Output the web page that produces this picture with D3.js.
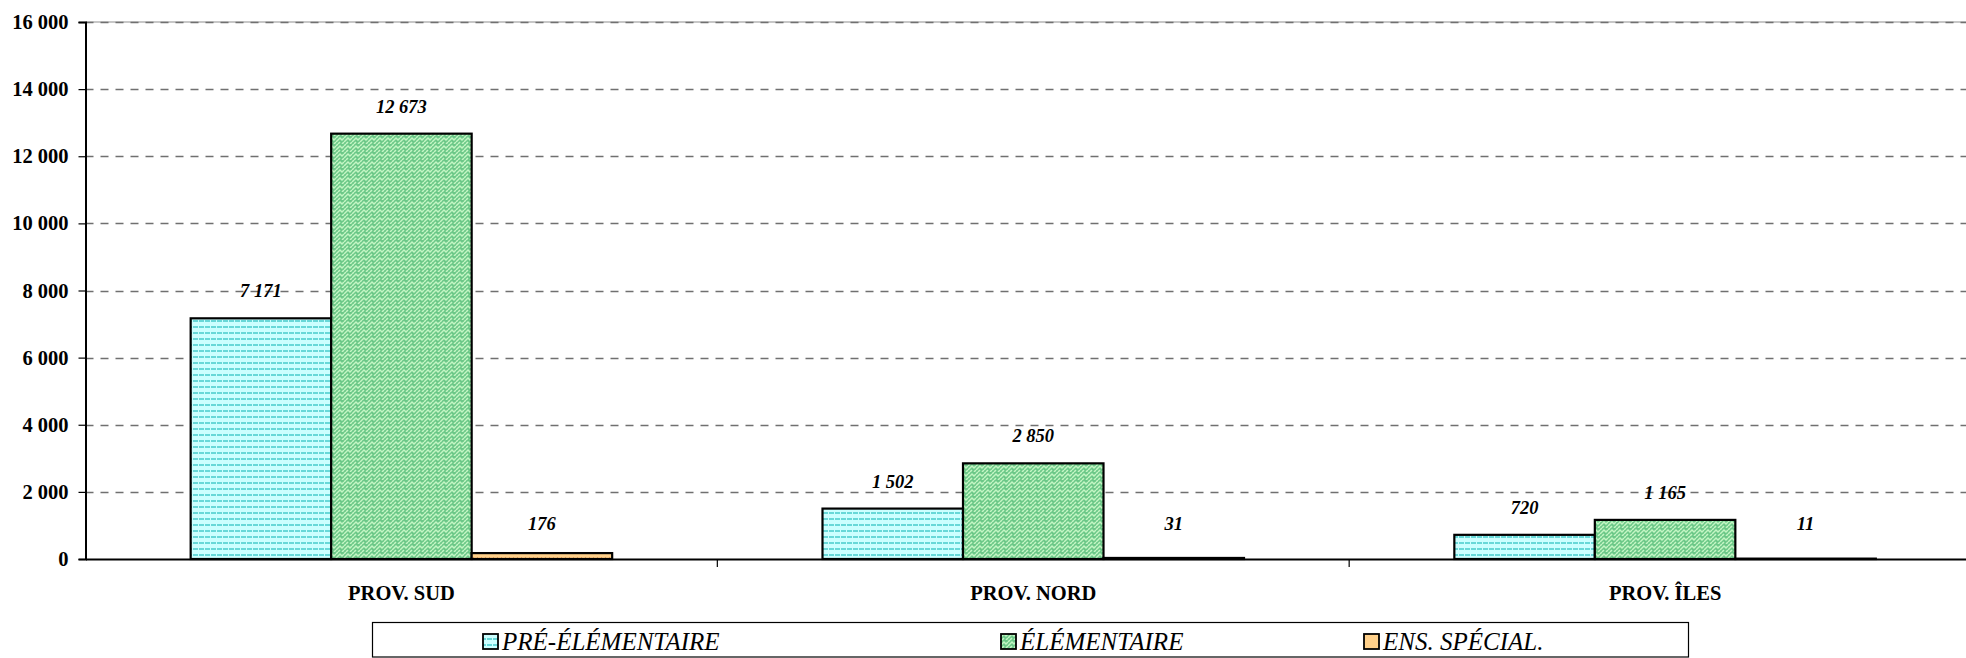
<!DOCTYPE html>
<html>
<head>
<meta charset="utf-8">
<script src="https://cdn.jsdelivr.net/npm/d3@7"></script>
<style>
  body { margin: 0; background: #fff; overflow: hidden; }
  text { font-family: "Liberation Serif", "Times New Roman", serif; }
</style>
</head>
<body>
<svg id="chart" width="1966" height="658"></svg>
<script>
// data
var provinces = ['PROV. SUD', 'PROV. NORD', 'PROV. ÎLES'];
var seriesNames = ['PRÉ-ÉLÉMENTAIRE', 'ÉLÉMENTAIRE', 'ENS. SPÉCIAL.'];
var preElem = [7171, 1502, 720];
var elem = [12673, 2850, 1165];
var ensSpecial = [176, 31, 11];
var yTicks = [0, 2000, 4000, 6000, 8000, 10000, 12000, 14000, 16000];

var svg = d3.select('#chart');
// plot runs past the right edge, like the reference
var plotLeft = 85.5, plotRight = 1981, plotTop = 22, plotBottom = 559;

var x = d3.scaleBand().domain(provinces).range([plotLeft, plotRight]);
var y = d3.scaleLinear().domain([0, 16000]).range([plotBottom, plotTop]);
var fmt = function(v) { return d3.format(',')(v).replace(/,/g, ' '); };

// patterns
var defs = svg.append('defs');
var p1 = defs.append('pattern').attr('id', 'patPre').attr('patternUnits', 'userSpaceOnUse')
    .attr('width', 12).attr('height', 12);
p1.append('rect').attr('width', 12).attr('height', 12).attr('fill', '#ccffff');
[[1, 3], [7, 3], [1, 9], [7, 9]].forEach(function(p) {
    p1.append('line').attr('x1', p[0]).attr('x2', p[0] + 5).attr('y1', p[1]).attr('y2', p[1])
        .attr('stroke', '#3cc8c8').attr('stroke-width', 1.4);
});

var p2 = defs.append('pattern').attr('id', 'patElem').attr('patternUnits', 'userSpaceOnUse')
    .attr('width', 8).attr('height', 8);
p2.append('rect').attr('width', 8).attr('height', 8).attr('fill', '#6cc888');
p2.append('path').attr('d', 'M0,2 L2,0 M0,6 L4,2 L6,4 L8,2 M2,8 L4,6 M6,8 L8,6')
    .attr('stroke', '#c4f6c4').attr('stroke-width', 1.5).attr('fill', 'none');

var p3 = defs.append('pattern').attr('id', 'patEns').attr('patternUnits', 'userSpaceOnUse')
    .attr('width', 4).attr('height', 4);
p3.append('rect').attr('width', 4).attr('height', 4).attr('fill', '#ffd08a');
p3.append('rect').attr('width', 1).attr('height', 1).attr('x', 1).attr('y', 1).attr('fill', '#e8a060');

var fills = ['url(#patPre)', 'url(#patElem)', 'url(#patEns)'];
var legendFills = ['url(#patPre)', 'url(#patElem)', '#ffd08a'];

// gridlines
svg.append('line').attr('x1', plotLeft).attr('x2', plotRight).attr('y1', y(16000)).attr('y2', y(16000))
    .attr('stroke', '#909090').attr('stroke-width', 1.2);
svg.append('g').selectAll('line').data(yTicks.slice(1)).enter().append('line')
    .attr('x1', plotLeft).attr('x2', plotRight)
    .attr('y1', function(d) { return Math.round(y(d)) + 0.5; })
    .attr('y2', function(d) { return Math.round(y(d)) + 0.5; })
    .attr('stroke', '#707070').attr('stroke-width', 1.4).attr('stroke-dasharray', '8,7');

// bars
var groups = [preElem, elem, ensSpecial];
var barW = 140.5, groupW = barW * 3;
var xs = d3.scaleBand().domain([0, 1, 2]).range([0, groupW]);
var barX = function(i, s) { return x(provinces[i]) + (x.bandwidth() - groupW) / 2 + xs(s); };

groups.forEach(function(vals, s) {
    svg.append('g').selectAll('rect').data(vals).enter().append('rect')
        .attr('x', function(d, i) { return barX(i, s); })
        .attr('y', function(d) { return y(d); })
        .attr('width', xs.bandwidth())
        .attr('height', function(d) { return plotBottom - y(d); })
        .attr('fill', fills[s])
        .attr('stroke', '#000').attr('stroke-width', 2.2);
});

// value labels
groups.forEach(function(vals, s) {
    svg.append('g').selectAll('text').data(vals).enter().append('text')
        .attr('x', function(d, i) { return barX(i, s) + xs.bandwidth() / 2; })
        .attr('y', function(d) { return Math.min(y(d) - 21, 530); })
        .attr('text-anchor', 'middle')
        .attr('font-size', 18.5).attr('font-weight', 'bold').attr('font-style', 'italic')
        .text(function(d) { return fmt(d); });
});

// y axis
var yAxis = d3.axisLeft(y).tickValues(yTicks).tickSize(7).tickFormat(fmt);
var ya = svg.append('g').attr('transform', 'translate(' + plotLeft + ',0)').call(yAxis);
ya.select('.domain').attr('stroke', '#000').attr('stroke-width', 2);
ya.selectAll('.tick line').attr('stroke', '#000').attr('stroke-width', 1.2);
ya.selectAll('.tick text').attr('x', -17).attr('font-size', 20.5).attr('font-weight', 'bold')
    .attr('font-family', '"Liberation Serif", serif').attr('fill', '#000');

// x axis
var xAxis = d3.axisBottom(x).tickSize(0);
var xa = svg.append('g').attr('transform', 'translate(0,' + plotBottom + ')').call(xAxis);
xa.select('.domain').attr('stroke', '#000').attr('stroke-width', 2);
xa.selectAll('.tick text').attr('y', 26).attr('font-size', 20.5).attr('font-weight', 'bold')
    .attr('font-family', '"Liberation Serif", serif').attr('fill', '#000');
xa.append('g').selectAll('line').data(provinces.slice(1)).enter().append('line')
    .attr('x1', function(d) { return x(d); }).attr('x2', function(d) { return x(d); })
    .attr('y1', 0).attr('y2', 8).attr('stroke', '#000').attr('stroke-width', 1.2);

// legend
var lg = svg.append('g');
lg.append('rect').attr('x', 372.5).attr('y', 622.5).attr('width', 1316).attr('height', 34.5)
    .attr('fill', '#fff').attr('stroke', '#000').attr('stroke-width', 1.2);
var legendX = [483, 1001, 1364];
seriesNames.forEach(function(name, i) {
    lg.append('rect').attr('x', legendX[i]).attr('y', 634).attr('width', 15).attr('height', 15)
        .attr('fill', legendFills[i]).attr('stroke', '#000').attr('stroke-width', 1.8);
    lg.append('text').attr('x', legendX[i] + 19).attr('y', 650)
        .attr('font-size', 25).attr('font-style', 'italic').attr('fill', '#000').text(name);
});
</script>
</body>
</html>
